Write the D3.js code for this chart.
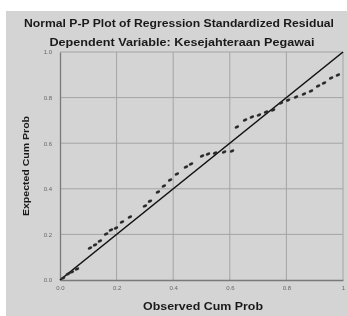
<!DOCTYPE html>
<html><head><meta charset="utf-8">
<script src="https://cdn.jsdelivr.net/npm/d3@7"></script>
<style>html,body{margin:0;padding:0;background:#fff;overflow:hidden}svg{display:block}</style>
</head><body>
<script>
const title = "Normal P-P Plot of Regression Standardized Residual";
const subtitle = "Dependent Variable: Kesejahteraan Pegawai";
const xLabel = "Observed Cum Prob";
const yLabel = "Expected Cum Prob";
const xTicks = [0, 0.2, 0.4, 0.6, 0.8, 1];
const xTickLabels = ["0.0", "0.2", "0.4", "0.6", "0.8", "1"];
const yTicks = [0, 0.2, 0.4, 0.6, 0.8, 1];
const yTickLabels = ["0.0", "0.2", "0.4", "0.6", "0.8", "1.0"];
const observed = [0.011,0.028,0.042,0.060,0.106,0.124,0.141,0.163,0.180,0.198,0.219,0.247,0.300,0.318,0.346,0.367,0.389,0.413,0.445,0.463,0.502,0.523,0.548,0.580,0.608,0.625,0.654,0.678,0.703,0.728,0.753,0.781,0.806,0.834,0.862,0.887,0.912,0.933,0.958,0.982];
const expected = [0.009,0.026,0.035,0.048,0.140,0.154,0.171,0.202,0.219,0.228,0.254,0.276,0.325,0.346,0.386,0.412,0.439,0.465,0.496,0.509,0.544,0.553,0.557,0.561,0.566,0.671,0.702,0.715,0.724,0.737,0.746,0.776,0.789,0.803,0.816,0.829,0.851,0.864,0.886,0.899];

const W = 347, H = 316;
const svg = d3.select("body").append("svg").attr("width", W).attr("height", H)
  .style("filter", "blur(0.5px)");
svg.append("rect").attr("x", 6).attr("y", 11).attr("width", W - 6).attr("height", H - 11).attr("fill", "#d4d4d4");

const x = d3.scaleLinear().domain([0, 1]).range([60, 343]);
const y = d3.scaleLinear().domain([0, 1]).range([280, 52]);

// gridlines
const g = svg.append("g");
g.selectAll("line.vx").data(xTicks.slice(1)).join("line")
  .attr("x1", d => x(d)).attr("x2", d => x(d)).attr("y1", y(1)).attr("y2", y(0))
  .attr("stroke", "#a4a4a4").attr("stroke-width", 1);
g.selectAll("line.hy").data(yTicks.slice(1)).join("line")
  .attr("y1", d => y(d)).attr("y2", d => y(d)).attr("x1", x(0)).attr("x2", x(1))
  .attr("stroke", "#a4a4a4").attr("stroke-width", 1);

// axes
const xAxis = d3.axisBottom(x).tickValues(xTicks).tickFormat((d, i) => xTickLabels[i]).tickSize(0).tickPadding(6);
const yAxis = d3.axisLeft(y).tickValues(yTicks).tickFormat((d, i) => yTickLabels[i]).tickSize(0).tickPadding(8);
const gx = svg.append("g").attr("transform", `translate(0,${y(0)})`).call(xAxis);
const gy = svg.append("g").attr("transform", `translate(${x(0)},0)`).call(yAxis);
[gx, gy].forEach(a => {
  a.select(".domain").attr("stroke", "#7a7a7a").attr("stroke-width", 1.3);
  a.selectAll("text").attr("font-family", "Liberation Sans, Arial, sans-serif").attr("font-size", 6).attr("fill", "#666");
});

// reference line
svg.append("line").attr("x1", x(0)).attr("y1", y(0)).attr("x2", x(1)).attr("y2", y(1))
  .attr("stroke", "#111").attr("stroke-width", 1.6);

// points (blurry dash-like markers as in the scanned reference)
svg.append("g").selectAll("ellipse").data(observed).join("ellipse")
  .attr("cx", (d, i) => x(d)).attr("cy", (d, i) => y(expected[i]))
  .attr("rx", 2.4).attr("ry", 1.4)
  .attr("transform", (d, i) => `rotate(-25,${x(d)},${y(expected[i])})`)
  .attr("fill", "#2a2a2a");

// titles
const font = "Liberation Sans, Arial, sans-serif";
svg.append("text").attr("x", 179).attr("y", 27).attr("text-anchor", "middle")
  .attr("font-family", font).attr("font-weight", "bold").attr("font-size", 10.5).attr("fill", "#1a1a1a")
  .attr("textLength", 310).attr("lengthAdjust", "spacingAndGlyphs").text(title);
svg.append("text").attr("x", 182).attr("y", 46).attr("text-anchor", "middle")
  .attr("font-family", font).attr("font-weight", "bold").attr("font-size", 10.5).attr("fill", "#1a1a1a")
  .attr("textLength", 265).attr("lengthAdjust", "spacingAndGlyphs").text(subtitle);
svg.append("text").attr("x", 203).attr("y", 310).attr("text-anchor", "middle")
  .attr("font-family", font).attr("font-weight", "bold").attr("font-size", 10).attr("fill", "#1a1a1a")
  .attr("textLength", 120).attr("lengthAdjust", "spacingAndGlyphs").text(xLabel);
svg.append("text").attr("transform", "translate(29,166) rotate(-90)").attr("text-anchor", "middle")
  .attr("font-family", font).attr("font-weight", "bold").attr("font-size", 9.5).attr("fill", "#1a1a1a")
  .attr("textLength", 100).attr("lengthAdjust", "spacingAndGlyphs").text(yLabel);
</script>
</body></html>
